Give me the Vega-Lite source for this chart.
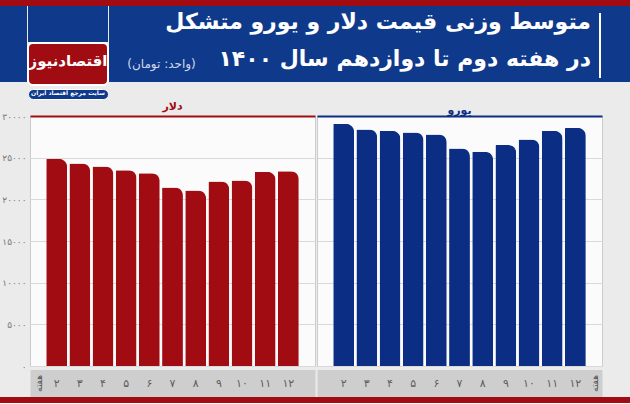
{
  "$schema": "https://vega.github.io/schema/vega-lite/v6.json",
  "background": "#ebebeb",
  "padding": 0,
  "spacing": 0,
  "config": {
    "font": "DejaVu Sans",
    "view": {"stroke": null},
    "concat": {"spacing": 0},
    "title": {"font": "DejaVu Sans"}
  },
  "datasets": {
    "none": [],
    "dollar": [
      {"week": "۲", "price": 24850},
      {"week": "۳", "price": 24300},
      {"week": "۴", "price": 23950},
      {"week": "۵", "price": 23480},
      {"week": "۶", "price": 23120},
      {"week": "۷", "price": 21420},
      {"week": "۸", "price": 21060},
      {"week": "۹", "price": 22130},
      {"week": "۱۰", "price": 22250},
      {"week": "۱۱", "price": 23290},
      {"week": "۱۲", "price": 23360}
    ],
    "euro": [
      {"week": "۲", "price": 29050},
      {"week": "۳", "price": 28370},
      {"week": "۴", "price": 28210},
      {"week": "۵", "price": 28010},
      {"week": "۶", "price": 27770},
      {"week": "۷", "price": 26100},
      {"week": "۸", "price": 25710},
      {"week": "۹", "price": 26510},
      {"week": "۱۰", "price": 27180},
      {"week": "۱۱", "price": 28210},
      {"week": "۱۲", "price": 28570}
    ]
  },
  "vconcat": [
    {"width": 630, "height": 6, "data": {"name": "none"}, "mark": "text", "encoding": {}, "view": {"fill": "#a10c12", "stroke": null}},
    {
      "hconcat": [
        {"width": 27, "height": 76, "data": {"name": "none"}, "mark": "text", "encoding": {}, "view": {"fill": "#0f3a8c", "stroke": null}},
        {
          "vconcat": [
            {"width": 80, "height": 36, "data": {"name": "none"}, "mark": "text", "encoding": {}, "view": {"fill": "#0f3a8c", "stroke": null}},
            {"width": 80, "height": 42, "data": {"name": "none"}, "mark": "text", "encoding": {},
             "view": {"fill": "#a10c12", "stroke": "#ffffff", "strokeWidth": 2, "cornerRadius": 5},
             "title": {"text": "اقتصادنیوز", "color": "#ffffff", "fontSize": 15, "fontWeight": "bold", "anchor": "middle", "frame": "group", "orient": "bottom", "baseline": "top", "offset": -31}},
            {"width": 80, "height": 2, "data": {"name": "none"}, "mark": "text", "encoding": {}, "view": {"fill": null, "stroke": null}},
            {"width": 80, "height": 10, "data": {"name": "none"}, "mark": "text", "encoding": {},
             "view": {"fill": "#0f3a8c", "stroke": "#ffffff", "strokeWidth": 1, "cornerRadius": 5},
             "title": {"text": "سایت مرجع اقتصاد ایران", "color": "#ffffff", "fontSize": 6, "fontWeight": "bold", "anchor": "middle", "frame": "group", "orient": "bottom", "baseline": "top", "offset": -9}}
          ]
        },
        {
          "vconcat": [
            {"width": 490, "height": 40, "data": {"name": "none"}, "mark": "text", "encoding": {}, "view": {"fill": "#0f3a8c", "stroke": null},
             "title": {"text": "متوسط وزنی قیمت دلار و یورو متشکل", "color": "#ffffff", "fontSize": 22, "fontWeight": "bold", "anchor": "end", "frame": "group", "orient": "bottom", "baseline": "top", "offset": -34, "dx": -8}},
            {
              "hconcat": [
                {"width": 95, "height": 36, "data": {"name": "none"}, "mark": "text", "encoding": {}, "view": {"fill": "#0f3a8c", "stroke": null},
                 "title": {"text": "(واحد: تومان)", "color": "#d3d9e8", "fontSize": 12, "fontWeight": "normal", "anchor": "middle", "frame": "group", "orient": "bottom", "baseline": "top", "offset": -23, "dx": 5}},
                {"width": 395, "height": 36, "data": {"name": "none"}, "mark": "text", "encoding": {}, "view": {"fill": "#0f3a8c", "stroke": null},
                 "title": {"text": "در هفته دوم تا دوازدهم سال ۱۴۰۰", "color": "#ffffff", "fontSize": 22, "fontWeight": "bold", "anchor": "end", "frame": "group", "orient": "bottom", "baseline": "top", "offset": -33, "dx": -8}}
              ]
            }
          ]
        },
        {
          "vconcat": [
            {"width": 2, "height": 7, "data": {"name": "none"}, "mark": "text", "encoding": {}, "view": {"fill": "#0f3a8c", "stroke": null}},
            {"width": 2, "height": 65, "data": {"name": "none"}, "mark": "text", "encoding": {}, "view": {"fill": "#ffffff", "stroke": null}},
            {"width": 2, "height": 4, "data": {"name": "none"}, "mark": "text", "encoding": {}, "view": {"fill": "#0f3a8c", "stroke": null}}
          ]
        },
        {"width": 31, "height": 76, "data": {"name": "none"}, "mark": "text", "encoding": {}, "view": {"fill": "#0f3a8c", "stroke": null}}
      ]
    },
    {
      "hconcat": [
        {"width": 1, "height": 1, "data": {"name": "none"}, "mark": "text", "encoding": {}, "view": {"fill": null, "stroke": null}},
        {
          "width": 285, "height": 250,
          "data": {"name": "dollar"},
          "title": {"text": "دلار", "color": "#a10c12", "fontSize": 11, "fontWeight": "bold", "anchor": "middle", "frame": "group", "offset": 0},
          "view": {"fill": "#fbfbfb", "stroke": "#cccccc"},
          "mark": {"type": "bar", "color": "#a10c12", "cornerRadiusTopRight": 8, "cornerRadiusTopLeft": 1},
          "encoding": {
            "x": {"field": "week", "type": "ordinal", "sort": null,
                  "scale": {"paddingInner": 0.1, "paddingOuter": 0.7},
                  "axis": {"title": "هفته", "titleAngle": 270, "titleX": 8, "titleY": 0, "titleAlign": "center", "titleBaseline": "middle", "titleFontSize": 9, "titleFontWeight": "normal", "titleColor": "#555555",
                           "labelAngle": 0, "labelFontSize": 11, "labelColor": "#555555", "labelPadding": 0, "labelBaseline": "middle",
                           "ticks": false, "tickSize": 0, "domain": true, "domainColor": "#777777", "domainOpacity": 0.25, "domainWidth": 27, "domainCap": "butt", "offset": 17, "grid": false}},
            "y": {"field": "price", "type": "quantitative", "scale": {"domain": [0, 30000], "nice": false},
                  "axis": {"title": null, "values": [0, 5000, 10000, 15000, 20000, 25000, 30000], "format": "d",
                           "labelFontSize": 9, "labelColor": "#777777", "ticks": false, "domain": false, "labelPadding": 4,
                           "grid": true,
                           "gridColor": {"condition": {"test": "datum.value === 30000", "value": "#a10c12"}, "value": "#d9d9d9"},
                           "gridWidth": {"condition": {"test": "datum.value === 30000", "value": 2}, "value": 1},
                           "labelExpr": "replace(replace(replace(replace(replace(replace(replace(replace(replace(replace(datum.label,regexp('0','g'),'۰'),regexp('1','g'),'۱'),regexp('2','g'),'۲'),regexp('3','g'),'۳'),regexp('4','g'),'۴'),regexp('5','g'),'۵'),regexp('6','g'),'۶'),regexp('7','g'),'۷'),regexp('8','g'),'۸'),regexp('9','g'),'۹')"}}
          }
        },
        {
          "width": 285, "height": 250,
          "data": {"name": "euro"},
          "title": {"text": "یورو", "color": "#0b2e84", "fontSize": 11, "fontWeight": "bold", "anchor": "middle", "frame": "group", "offset": 0},
          "view": {"fill": "#fbfbfb", "stroke": "#cccccc"},
          "mark": {"type": "bar", "color": "#0b2e84", "cornerRadiusTopRight": 8, "cornerRadiusTopLeft": 1},
          "encoding": {
            "x": {"field": "week", "type": "ordinal", "sort": null,
                  "scale": {"paddingInner": 0.1, "paddingOuter": 0.7},
                  "axis": {"title": "هفته", "titleAngle": 270, "titleX": 277, "titleY": 0, "titleAlign": "center", "titleBaseline": "middle", "titleFontSize": 9, "titleFontWeight": "normal", "titleColor": "#555555",
                           "labelAngle": 0, "labelFontSize": 11, "labelColor": "#555555", "labelPadding": 0, "labelBaseline": "middle",
                           "ticks": false, "tickSize": 0, "domain": true, "domainColor": "#777777", "domainOpacity": 0.25, "domainWidth": 27, "domainCap": "butt", "offset": 17, "grid": false}},
            "y": {"field": "price", "type": "quantitative", "scale": {"domain": [0, 30000], "nice": false},
                  "axis": {"title": null, "values": [0, 5000, 10000, 15000, 20000, 25000, 30000], "labels": false, "ticks": false, "domain": false,
                           "grid": true,
                           "gridColor": {"condition": {"test": "datum.value === 30000", "value": "#0b2e84"}, "value": "#d9d9d9"},
                           "gridWidth": {"condition": {"test": "datum.value === 30000", "value": 2}, "value": 1}}}
          }
        }
      ]
    },
    {"width": 630, "height": 5, "data": {"name": "none"}, "mark": "text", "encoding": {}, "view": {"fill": null, "stroke": null}},
    {"width": 630, "height": 6, "data": {"name": "none"}, "mark": "text", "encoding": {}, "view": {"fill": "#a10c12", "stroke": null}}
  ]
}
